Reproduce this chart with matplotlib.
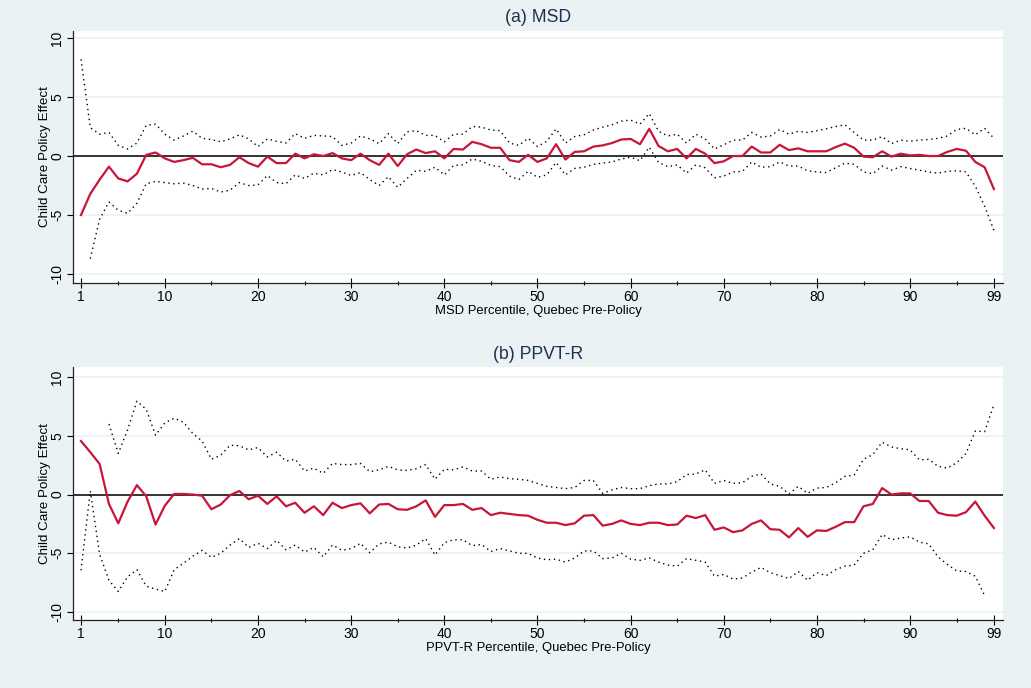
import numpy as np
import matplotlib
matplotlib.use("Agg")
import matplotlib.pyplot as plt

plt.rcParams['font.family'] = ['Liberation Sans', 'DejaVu Sans']
plt.rcParams['axes.unicode_minus'] = False

nan = np.nan

# percentiles on the x axis
pct = list(range(1, 100))

# (a) MSD: point estimate and confidence band
msd_est = [
    -5.0, -3.2, -2.0, -0.9, -1.9, -2.15, -1.5, 0.1, 0.3, -0.2,
    -0.5, -0.35, -0.15, -0.7, -0.7, -0.95, -0.75, -0.1, -0.6, -0.9,
    -0.05, -0.6, -0.6, 0.2, -0.2, 0.15, 0.0, 0.25, -0.2, -0.35,
    0.2, -0.35, -0.75, 0.2, -0.85, 0.15, 0.55, 0.25, 0.4, -0.2,
    0.6, 0.55, 1.2, 1.0, 0.7, 0.7, -0.35, -0.5, 0.1, -0.5,
    -0.2, 1.0, -0.3, 0.35, 0.4, 0.8, 0.9, 1.1, 1.4, 1.45,
    1.0, 2.3, 0.85, 0.4, 0.6, -0.2, 0.6, 0.2, -0.6, -0.45,
    0.0, 0.0, 0.8, 0.3, 0.3, 0.95, 0.5, 0.65, 0.4, 0.4,
    0.4, 0.75, 1.05, 0.7, -0.05, -0.1, 0.4, -0.05, 0.2, 0.05,
    0.1, 0.0, 0.0, 0.35, 0.6, 0.45, -0.5, -0.95, -2.8]
msd_hi = [
    8.2, 2.4, 1.85, 2.0, 0.9, 0.6, 1.1, 2.6, 2.7, 1.85,
    1.35, 1.7, 2.1, 1.5, 1.4, 1.2, 1.45, 1.8, 1.45, 0.8,
    1.45, 1.25, 1.1, 1.9, 1.5, 1.75, 1.7, 1.65, 0.9, 1.1,
    1.7, 1.45, 1.05, 1.9, 1.05, 2.05, 2.15, 1.75, 1.75, 1.2,
    1.85, 1.85, 2.5, 2.45, 2.2, 2.15, 1.1, 0.9, 1.5, 0.8,
    1.25, 2.3, 1.1, 1.65, 1.8, 2.2, 2.45, 2.65, 2.95, 3.05,
    2.7, 3.6, 2.1, 1.7, 1.85, 1.1, 1.85, 1.45, 0.6, 0.95,
    1.35, 1.35, 2.0, 1.6, 1.7, 2.25, 1.85, 2.1, 2.0, 2.15,
    2.3, 2.5, 2.65, 2.0, 1.35, 1.35, 1.65, 1.05, 1.35, 1.25,
    1.35, 1.4, 1.5, 1.7, 2.25, 2.35, 1.8, 2.35, 1.5]
msd_lo = [
    nan, -8.7, -5.35, -3.9, -4.6, -4.85, -4.0, -2.35, -2.15, -2.25,
    -2.35, -2.3, -2.5, -2.8, -2.75, -3.05, -2.9, -2.25, -2.5, -2.45,
    -1.65, -2.25, -2.35, -1.6, -1.9, -1.45, -1.6, -1.15, -1.35, -1.65,
    -1.4, -2.0, -2.5, -1.75, -2.65, -1.9, -1.2, -1.3, -0.95, -1.6,
    -0.8, -0.75, -0.25, -0.45, -0.8, -0.9, -1.7, -2.0, -1.3, -1.8,
    -1.6, -0.55, -1.6, -1.05, -0.95, -0.7, -0.6, -0.5, -0.25, -0.1,
    -0.4, 0.75, -0.55, -0.9, -0.75, -1.45, -0.75, -1.0, -1.85, -1.7,
    -1.35, -1.3, -0.5, -0.95, -0.9, -0.5, -0.85, -0.85, -1.25, -1.35,
    -1.4, -1.0, -0.6, -0.7, -1.35, -1.5, -0.85, -1.2, -0.9, -1.05,
    -1.2, -1.35, -1.45, -1.3, -1.25, -1.35, -2.55, -4.25, -6.3]

# (b) PPVT-R: point estimate and confidence band
ppvt_est = [
    4.55, 3.6, 2.6, -0.8, -2.45, -0.6, 0.8, -0.15, -2.55, -0.95,
    0.05, 0.05, 0.0, -0.1, -1.25, -0.85, -0.05, 0.3, -0.4, -0.1,
    -0.8, -0.15, -1.0, -0.7, -1.55, -1.0, -1.75, -0.7, -1.15, -0.9,
    -0.75, -1.6, -0.85, -0.8, -1.25, -1.3, -1.0, -0.5, -1.9, -0.9,
    -0.9, -0.8, -1.3, -1.15, -1.75, -1.55, -1.65, -1.75, -1.8, -2.15,
    -2.4, -2.4, -2.6, -2.45, -1.8, -1.75, -2.65, -2.5, -2.2, -2.5,
    -2.6, -2.4, -2.4, -2.6, -2.55, -1.8, -2.0, -1.75, -3.0, -2.8,
    -3.2, -3.05, -2.5, -2.2, -2.95, -3.0, -3.65, -2.85, -3.6, -3.05,
    -3.1, -2.75, -2.35, -2.35, -1.0, -0.8, 0.55, 0.0, 0.1, 0.1,
    -0.55, -0.55, -1.55, -1.75, -1.8, -1.5, -0.6, -1.8, -2.85]
ppvt_hi = [
    nan, nan, nan, 6.0, 3.5, 5.5, 7.95, 7.25, 5.05, 6.1,
    6.5, 6.15, 5.2, 4.55, 3.0, 3.35, 4.2, 4.15, 3.8, 4.0,
    3.2, 3.6, 2.85, 3.0, 2.0, 2.25, 1.8, 2.65, 2.55, 2.55,
    2.65, 1.95, 2.1, 2.4, 2.1, 2.05, 2.2, 2.55, 1.3, 2.15,
    2.1, 2.35, 2.0, 2.0, 1.3, 1.5, 1.35, 1.3, 1.2, 0.95,
    0.7, 0.6, 0.5, 0.6, 1.2, 1.2, 0.1, 0.4, 0.6, 0.5,
    0.5, 0.75, 0.9, 0.9, 1.1, 1.7, 1.75, 2.1, 0.95, 1.2,
    0.95, 1.0, 1.55, 1.75, 0.9, 0.7, 0.05, 0.7, 0.1, 0.55,
    0.6, 1.0, 1.55, 1.65, 3.0, 3.4, 4.45, 4.05, 3.9, 3.8,
    2.95, 3.0, 2.4, 2.25, 2.7, 3.5, 5.4, 5.35, 7.65]
ppvt_lo = [
    -6.45, 0.3, -5.1, -7.3, -8.25, -7.0, -6.4, -7.8, -8.05, -8.25,
    -6.4, -5.85, -5.25, -4.75, -5.35, -5.0, -4.3, -3.75, -4.5, -4.15,
    -4.6, -3.9, -4.7, -4.3, -4.9, -4.5, -5.3, -4.3, -4.75, -4.6,
    -4.15, -4.95, -4.2, -4.05, -4.45, -4.55, -4.3, -3.75, -5.15, -4.1,
    -3.85, -3.85, -4.35, -4.25, -4.85, -4.6, -4.8, -5.0, -5.0, -5.4,
    -5.55, -5.5, -5.75, -5.4, -4.8, -4.8, -5.45, -5.4, -5.0, -5.5,
    -5.6, -5.4, -5.75, -6.0, -6.1, -5.45, -5.6, -5.75, -6.95, -6.8,
    -7.2, -7.1, -6.6, -6.2, -6.65, -6.9, -7.15, -6.55, -7.3, -6.65,
    -6.9, -6.4, -6.1, -6.0, -5.0, -4.7, -3.4, -3.85, -3.7, -3.6,
    -4.05, -4.2, -5.3, -5.95, -6.5, -6.55, -6.95, -8.6, nan]

xticks = [1, 10, 20, 30, 40, 50, 60, 70, 80, 90, 99]
xminor = [5, 15, 25, 35, 45, 55, 65, 75, 85, 95]
yticks = [-10, -5, 0, 5, 10]

bg = "#eaf2f3"
red = "#c8153a"
navy = "#1f3152"

fig = plt.figure(figsize=(10.31, 6.88), dpi=100, facecolor=bg)

panels = [
    ("(a) MSD", "MSD Percentile, Quebec Pre-Policy", msd_est, msd_hi, msd_lo,
     [0.0708, 0.5887, 0.902, 0.3663], (-10.76, 10.6)),
    ("(b) PPVT-R", "PPVT-R Percentile, Quebec Pre-Policy", ppvt_est, ppvt_hi, ppvt_lo,
     [0.0708, 0.0988, 0.902, 0.3677], (-10.68, 10.85)),
]

for title, xlab, est, hi, lo, pos, ylim in panels:
    ax = fig.add_axes(pos)
    ax.set_facecolor("white")
    for yv in yticks:
        if yv != 0:
            ax.axhline(yv, color=bg, lw=1.2, zorder=0)
    ax.axhline(0, color="#333333", lw=1.4, zorder=1)
    ax.plot(pct, hi, color="black", lw=1.0, ls=(0, (1, 2.6)), zorder=2)
    ax.plot(pct, lo, color="black", lw=1.0, ls=(0, (1, 2.6)), zorder=2)
    ax.plot(pct, est, color=red, lw=1.6, zorder=3)

    ax.set_xlim(0.14, 99.97)
    ax.set_ylim(*ylim)
    ax.set_xticks(xticks)
    ax.set_xticks(xminor, minor=True)
    ax.set_yticks(yticks)
    ax.tick_params(axis="x", which="major", direction="inout", length=6.5,
                   width=0.8, pad=1.5, labelsize=10)
    ax.tick_params(axis="x", which="minor", direction="inout", length=3.5,
                   width=0.8)
    ax.tick_params(axis="y", direction="out", length=4.3, width=0.8,
                   pad=2, labelsize=10)
    for lab in ax.get_yticklabels():
        lab.set_rotation(90)
        lab.set_va("center")

    for s in ["top", "right"]:
        ax.spines[s].set_visible(False)
    for s in ["left", "bottom"]:
        ax.spines[s].set_color("#222222")
        ax.spines[s].set_linewidth(0.9)

    ax.set_ylabel("Child Care Policy Effect", fontsize=9.6, va="center")
    ax.yaxis.set_label_coords(-0.030, 0.5)
    ax.set_xlabel(xlab, fontsize=9.4)
    ax.xaxis.set_label_coords(0.5, -0.112)
    ax.xaxis.label.set_va("center")

    top_px = (1 - pos[1] - pos[3]) * 688
    fig.text(0.5218, 1 - (top_px - 13) / 688, title, ha="center", va="center",
             fontsize=12.7, color=navy)

fig.savefig("out.png", dpi=100, facecolor=bg)
